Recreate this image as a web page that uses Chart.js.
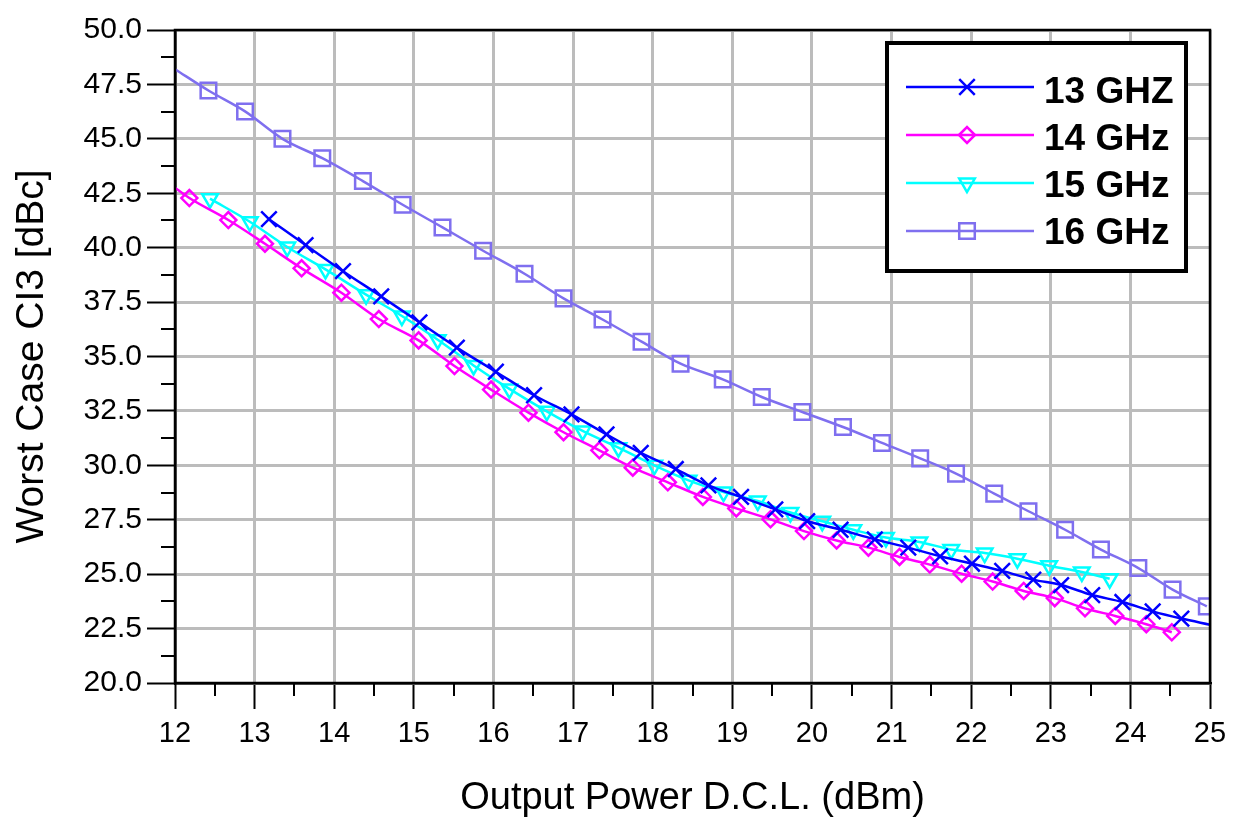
<!DOCTYPE html>
<html>
<head>
<meta charset="utf-8">
<script src="https://cdn.jsdelivr.net/npm/chart.js@4"></script>
<style>
  html, body { margin: 0; padding: 0; background: #fff; }
  #wrap { width: 1236px; height: 820px; }
</style>
</head>
<body>
<div id="wrap"><canvas id="chart" width="1236" height="820"></canvas></div>
<script>
// values (x = output power in dBm, y = worst case CI3 in dBc)
const f13x = [13.18, 13.64, 14.11, 14.59, 15.07, 15.54, 16.03, 16.51, 16.98, 17.42, 17.85, 18.29, 18.70, 19.11, 19.54, 19.94, 20.36, 20.79, 21.21, 21.61, 22.01, 22.39, 22.78, 23.13, 23.52, 23.90, 24.28, 24.64, 25.0];
const f13y = [41.31, 40.12, 38.92, 37.76, 36.57, 35.41, 34.30, 33.22, 32.34, 31.42, 30.57, 29.83, 29.08, 28.55, 27.98, 27.44, 27.04, 26.60, 26.22, 25.82, 25.48, 25.15, 24.75, 24.50, 24.04, 23.72, 23.29, 22.96, 22.68];

const f14x = [12.0, 12.18, 12.67, 13.13, 13.59, 14.09, 14.56, 15.06, 15.51, 15.97, 16.44, 16.88, 17.33, 17.75, 18.19, 18.63, 19.05, 19.48, 19.90, 20.31, 20.71, 21.10, 21.48, 21.88, 22.27, 22.66, 23.05, 23.43, 23.81, 24.20, 24.52];
const f14y = [42.75, 42.28, 41.27, 40.18, 39.05, 37.93, 36.72, 35.74, 34.56, 33.48, 32.42, 31.52, 30.69, 29.89, 29.22, 28.55, 28.02, 27.52, 26.98, 26.55, 26.22, 25.79, 25.44, 25.02, 24.66, 24.23, 23.90, 23.43, 23.08, 22.70, 22.33];

const f15x = [12.44, 12.94, 13.41, 13.89, 14.40, 14.85, 15.30, 15.75, 16.20, 16.67, 17.12, 17.57, 18.02, 18.45, 18.89, 19.32, 19.73, 20.13, 20.52, 20.93, 21.35, 21.75, 22.17, 22.58, 22.98, 23.39, 23.74];
const f15y = [42.25, 41.19, 40.03, 39.00, 37.84, 36.86, 35.77, 34.59, 33.51, 32.48, 31.58, 30.81, 30.00, 29.31, 28.77, 28.36, 27.83, 27.43, 27.04, 26.68, 26.48, 26.13, 25.97, 25.71, 25.39, 25.10, 24.79];

const f16x = [12.0, 12.42, 12.88, 13.35, 13.85, 14.36, 14.86, 15.36, 15.87, 16.39, 16.88, 17.37, 17.86, 18.35, 18.88, 19.37, 19.88, 20.39, 20.88, 21.36, 21.81, 22.29, 22.72, 23.18, 23.63, 24.10, 24.53, 24.96];
const f16y = [48.20, 47.22, 46.26, 45.00, 44.11, 43.06, 41.97, 40.93, 39.86, 38.80, 37.67, 36.70, 35.68, 34.67, 33.95, 33.14, 32.45, 31.76, 31.03, 30.32, 29.62, 28.70, 27.89, 27.04, 26.13, 25.28, 24.29, 23.52];

const seriesNames = ['13 GHZ', '14 GHz', '15 GHz', '16 GHz'];

const xMin = 12, xMax = 25, xStep = 1;
const yMin = 20, yMax = 50, yStep = 2.5;

const FONT = "'Liberation Sans', Arial, sans-serif";

function pts(xs, ys) {
  return xs.map((x, i) => ({ x: x, y: ys[i] }));
}
// points lying on the axis limits only carry the line, no marker
function radii(xs, r) {
  return xs.map(x => (x <= xMin || x >= xMax) ? 0 : r);
}

function series(name, xs, ys, color, style, r, rot) {
  return {
    label: name,
    data: pts(xs, ys),
    showLine: true,
    borderColor: color,
    borderWidth: 2.5,
    backgroundColor: 'rgba(0,0,0,0)',
    pointStyle: style,
    pointRotation: rot || 0,
    pointRadius: radii(xs, r),
    legendRadius: r,
    pointBorderColor: color,
    pointBorderWidth: 2.5,
    pointBackgroundColor: 'rgba(0,0,0,0)',
    cubicInterpolationMode: 'monotone'
  };
}

const datasets = [
  series(seriesNames[0], f13x, f13y, '#0000ff', 'crossRot', 11),
  series(seriesNames[1], f14x, f14y, '#ff00ff', 'rectRot', 8),
  series(seriesNames[2], f15x, f15y, '#00ffff', 'triangle', 9, 180),
  series(seriesNames[3], f16x, f16y, '#7f6fef', 'rect', 11)
];

const decor = {
  id: 'decor',
  afterDraw(chart) {
    const { ctx, chartArea: a, scales } = chart;
    const sx = scales.x, sy = scales.y;
    ctx.save();
    ctx.strokeStyle = '#000';
    ctx.lineWidth = 2;
    ctx.beginPath();
    for (let v = xMin + xStep / 2; v < xMax; v += xStep) {
      const px = Math.round(sx.getPixelForValue(v));
      ctx.moveTo(px, a.bottom);
      ctx.lineTo(px, a.bottom + 13);
    }
    for (let v = yMin + yStep / 2; v < yMax; v += yStep) {
      const py = Math.round(sy.getPixelForValue(v));
      ctx.moveTo(a.left - 14, py);
      ctx.lineTo(a.left, py);
    }
    ctx.stroke();
    // plot frame
    ctx.lineWidth = 2.5;
    ctx.strokeRect(a.left, a.top, a.right - a.left, a.bottom - a.top);

    // legend box
    const bx = 887, by = 43, bw = 299, bh = 228;
    ctx.fillStyle = '#fff';
    ctx.fillRect(bx, by, bw, bh);
    ctx.lineWidth = 4;
    ctx.strokeStyle = '#000';
    ctx.strokeRect(bx, by, bw, bh);
    chart.data.datasets.forEach((ds, i) => {
      const ly = 87 + 48 * i;
      ctx.strokeStyle = ds.borderColor;
      ctx.lineWidth = 2.5;
      ctx.beginPath();
      ctx.moveTo(906, ly);
      ctx.lineTo(1034, ly);
      ctx.stroke();
      ctx.fillStyle = 'rgba(0,0,0,0)';
      Chart.helpers.drawPoint(ctx, {
        pointStyle: ds.pointStyle,
        rotation: ds.pointRotation,
        radius: ds.legendRadius,
        borderWidth: 2.5
      }, 967, ly);
      ctx.fillStyle = '#000';
      ctx.font = "bold 37px " + FONT;
      ctx.textBaseline = 'alphabetic';
      ctx.textAlign = 'left';
      ctx.fillText(ds.label, 1044, 103 + 47 * i);
    });
    ctx.restore();
  }
};

new Chart(document.getElementById('chart').getContext('2d'), {
  type: 'scatter',
  data: { datasets: datasets },
  options: {
    responsive: false,
    animation: false,
    layout: { padding: { top: 30, right: 26, left: 0, bottom: 0 } },
    plugins: { legend: { display: false }, tooltip: { enabled: false } },
    scales: {
      x: {
        type: 'linear',
        min: xMin,
        max: xMax,
        afterFit(s) { s.height = 137; },
        ticks: {
          stepSize: xStep,
          color: '#000',
          padding: 8,
          font: { family: FONT, size: 29 }
        },
        grid: { color: '#bcbcbc', lineWidth: 3, tickColor: '#000', tickLength: 26, tickWidth: 2 },
        border: { color: '#000', width: 2.5 },
        title: {
          display: true,
          text: 'Output Power D.C.L. (dBm)',
          color: '#000',
          font: { family: FONT, size: 38, lineHeight: 1 },
          padding: { top: 0, bottom: 2 }
        }
      },
      y: {
        type: 'linear',
        min: yMin,
        max: yMax,
        afterFit(s) { s.width = 175; },
        ticks: {
          stepSize: yStep,
          color: '#000',
          padding: 5,
          font: { family: FONT, size: 30 },
          callback: v => v.toFixed(1)
        },
        grid: { color: '#bcbcbc', lineWidth: 3, tickColor: '#000', tickLength: 28, tickWidth: 2 },
        border: { color: '#000', width: 2.5 },
        title: {
          display: true,
          text: 'Worst Case CI3 [dBc]',
          color: '#000',
          font: { family: FONT, size: 39, lineHeight: 1 },
          padding: { top: 13, bottom: 0 }
        }
      }
    }
  },
  plugins: [decor]
});
</script>
</body>
</html>
